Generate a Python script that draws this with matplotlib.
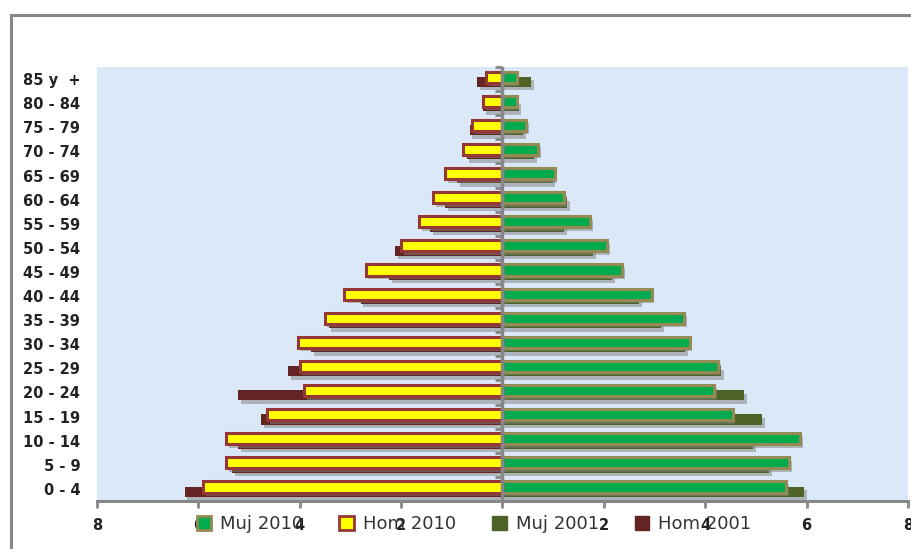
import numpy as np
import matplotlib.pyplot as plt
import matplotlib.patheffects as pe
from matplotlib.patches import Patch
from matplotlib.lines import Line2D

# age groups, bottom to top
grupos = ["0 - 4", "5 - 9", "10 - 14", "15 - 19", "20 - 24", "25 - 29",
          "30 - 34", "35 - 39", "40 - 44", "45 - 49", "50 - 54", "55 - 59",
          "60 - 64", "65 - 69", "70 - 74", "75 - 79", "80 - 84", "85 y  +"]

# percent of population
muj_2010 = [5.60, 5.65, 5.87, 4.54, 4.17, 4.25, 3.69, 3.59, 2.94, 2.36,
            2.06, 1.73, 1.21, 1.03, 0.71, 0.46, 0.28, 0.28]
hom_2010 = [5.91, 5.46, 5.46, 4.64, 3.91, 3.99, 4.03, 3.51, 3.12, 2.70,
            2.00, 1.65, 1.37, 1.13, 0.77, 0.60, 0.38, 0.32]
muj_2001 = [5.95, 5.26, 4.94, 5.12, 4.76, 4.31, 3.61, 3.13, 2.70, 2.16,
            1.79, 1.21, 1.27, 0.99, 0.63, 0.40, 0.32, 0.56]
hom_2001 = [6.27, 5.34, 5.22, 4.76, 5.22, 4.23, 3.77, 3.43, 2.80, 2.24,
            2.12, 1.43, 1.13, 0.89, 0.71, 0.65, 0.38, 0.50]

xticks = [-8, -6, -4, -2, 0, 2, 4, 6, 8]

C_MUJ10, C_MUJ10_EDGE = "#00AB4E", "#948A54"
C_HOM10, C_HOM10_EDGE = "#FFFF00", "#953735"
C_MUJ01 = "#4F6228"
C_HOM01 = "#632523"
GRAY = "#878787"

fig = plt.figure(figsize=(9.12, 5.49), dpi=100)
ax = fig.add_axes([97 / 912, 48 / 549, 811 / 912, 434 / 549])
ax.set_facecolor("#dae8f7")

y = np.arange(len(grupos))
shadow = [pe.SimplePatchShadow(offset=(2, -2.5), shadow_rgbFace="#808080", alpha=0.5), pe.Normal()]

b1 = ax.barh(y - 0.12, muj_2001, height=0.42, color=C_MUJ01, zorder=2)
b2 = ax.barh(y - 0.12, [-v for v in hom_2001], height=0.42, color=C_HOM01, zorder=2)
b3 = ax.barh(y + 0.08, muj_2010, height=0.46, color=C_MUJ10,
             edgecolor=C_MUJ10_EDGE, linewidth=2.2, zorder=3)
b4 = ax.barh(y + 0.08, [-v for v in hom_2010], height=0.46, color=C_HOM10,
             edgecolor=C_HOM10_EDGE, linewidth=2.2, zorder=3)
for bars in (b1, b2, b3, b4):
    for p in bars:
        p.set_path_effects(shadow)

ax.set_xlim(-8, 8)
ax.set_ylim(-0.5, len(grupos) - 0.5)

ax.set_xticks(xticks)
ax.set_xticklabels([str(abs(t)) for t in xticks], fontsize=10.5,
                   fontweight="bold", color="#222222")
ax.tick_params(axis="x", length=5, width=2, color=GRAY, pad=7)

ax.set_yticks(y)
ax.set_yticklabels(grupos, fontsize=10.5, fontweight="bold", color="#222222")
ax.tick_params(axis="y", length=0, pad=12)

for s in ("left", "right", "top"):
    ax.spines[s].set_visible(False)
ax.spines["bottom"].set_color(GRAY)
ax.spines["bottom"].set_linewidth(2.2)

# vertical axis through zero, tick marks between groups pointing left
ax.axvline(0, color=GRAY, lw=2.5, zorder=4)
mid = ax.secondary_yaxis(0.5)
mid.set_yticks(np.arange(len(grupos) + 1) - 0.5)
mid.set_yticklabels([])
mid.yaxis.set_ticks_position("left")
mid.tick_params(length=5, width=2, color=GRAY, direction="out")
for s in mid.spines.values():
    s.set_visible(False)

handles = [
    Patch(facecolor=C_MUJ10, edgecolor=C_MUJ10_EDGE, linewidth=2),
    Patch(facecolor=C_HOM10, edgecolor=C_HOM10_EDGE, linewidth=2),
    Patch(facecolor=C_MUJ01, edgecolor=C_MUJ01),
    Patch(facecolor=C_HOM01, edgecolor=C_HOM01),
]
fig.legend(handles, ["Muj 2010", "Hom 2010", "Muj 2001", "Hom 2001"],
           loc="center", bbox_to_anchor=(474 / 912, 25 / 549), ncol=4,
           frameon=False, fontsize=13, handlelength=0.8, handleheight=0.8,
           handletextpad=0.5, columnspacing=2.0, labelcolor="#333333")

# outer chart frame (left and top edges)
fig.add_artist(Line2D([11 / 912, 11 / 912], [0, 1 - 15 / 549], color=GRAY,
                      lw=2.2, transform=fig.transFigure))
fig.add_artist(Line2D([11 / 912, 1], [1 - 15 / 549, 1 - 15 / 549], color=GRAY,
                      lw=2.2, transform=fig.transFigure))

fig.savefig("out.png", dpi=100)
